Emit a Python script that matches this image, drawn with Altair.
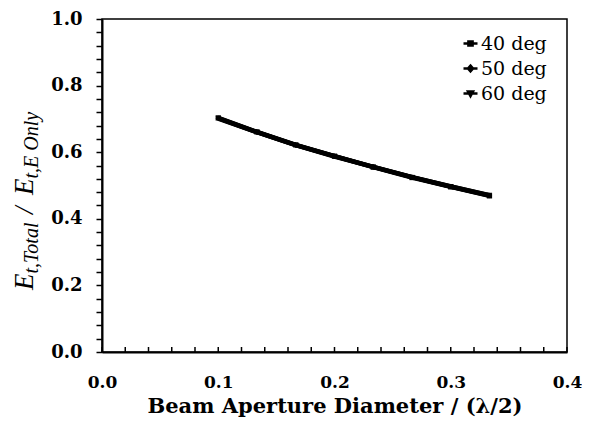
import altair as alt
import pandas as pd

# ---- data ----
aperture = [0.1, 0.1333, 0.1667, 0.2, 0.2333, 0.2667, 0.3, 0.3333]
deg40 = [0.703, 0.661, 0.622, 0.588, 0.555, 0.524, 0.496, 0.469]
deg50 = [0.702, 0.660, 0.621, 0.588, 0.556, 0.525, 0.497, 0.470]
deg60 = [0.701, 0.660, 0.621, 0.587, 0.556, 0.525, 0.497, 0.471]
series_names = ["40 deg", "50 deg", "60 deg"]
x_ticks = [0.0, 0.1, 0.2, 0.3, 0.4]
x_minor = [round(i * 0.02, 2) for i in range(21)]
y_ticks = [round(i * 0.04, 2) for i in range(26)]

rows = []
for name, vals in zip(series_names, [deg40, deg50, deg60]):
    for xv, yv in zip(aperture, vals):
        rows.append({"x": xv, "y": yv, "series": name})
df = pd.DataFrame(rows)

W, H = 465, 333
FONT = "DejaVu Serif"
TFONT = "Liberation Serif"

xscale = alt.Scale(domain=[0, 0.4], nice=False, zero=False)
yscale = alt.Scale(domain=[0, 1], nice=False)

x_axis = alt.Axis(values=x_ticks, format=".1f", ticks=False, tickSize=0,
                  labelPadding=22, labelFlush=False, labelOverlap=False,
                  labelFont=FONT, labelFontSize=17, labelFontWeight="bold",
                  labelColor="black", domainColor="black", domainWidth=2,
                  grid=False, title="Beam Aperture Diameter / (λ/2)",
                  titleFont=FONT, titleFontSize=21, titleFontWeight="bold",
                  titleColor="black", titlePadding=5)
y_axis = alt.Axis(values=y_ticks,
                  labelExpr="(round(datum.value*100) % 20 == 0) ? format(datum.value, '.1f') : ''",
                  tickSize=6, tickWidth=1.5, tickColor="black",
                  labelPadding=14, labelFlush=False, labelOverlap=False,
                  labelBound=False,
                  labelFont=FONT, labelFontSize=18, labelFontWeight="bold",
                  labelColor="black", domainColor="black", domainWidth=2,
                  grid=False, title=None)

X = alt.X("x:Q", scale=xscale, axis=x_axis)
Y = alt.Y("y:Q", scale=yscale, axis=y_axis)

base = alt.Chart(df)

line = base.mark_line(color="black", strokeWidth=4.5).encode(
    x=X, y=Y, detail="series:N",
)

points = base.mark_point(filled=True, color="black", size=28, opacity=1).encode(
    x=X, y=Y,
    shape=alt.Shape("series:N",
                    scale=alt.Scale(domain=series_names,
                                    range=["square", "diamond", "triangle-down"]),
                    legend=None),
)

legend_paths = [
    "M-1,0H1M-0.3,-0.3H0.3V0.3H-0.3Z",
    "M-1,0H1M0,-0.42L0.36,0L0,0.42L-0.36,0Z",
    "M-1,0H1M-0.36,-0.3H0.36L0,0.36Z",
]
legend_layer = base.transform_filter("false").mark_point(
    filled=False, color="black", strokeWidth=2.5, opacity=1
).encode(
    x=X, y=Y,
    shape=alt.Shape("series:N",
                    scale=alt.Scale(domain=series_names, range=legend_paths),
                    legend=alt.Legend(title=None, orient="none", legendX=359, legendY=15,
                                      padding=0, symbolSize=196, symbolStrokeWidth=2.5,
                                      symbolStrokeColor="black", labelOffset=1,
                                      labelFont=FONT, labelFontSize=19,
                                      labelColor="black", rowPadding=5)),
)

tick_df = pd.DataFrame({"x": x_minor})
xticks = alt.Chart(tick_df).mark_rule(color="black", strokeWidth=1.5).encode(
    x=X,
    y=alt.value(H - 5),
    y2=alt.value(H),
)

# composite y-axis title with subscripts
def piece(text, xpos, ypos, size):
    return alt.Chart(pd.DataFrame({"t": [text]})).mark_text(
        angle=270, align="left", baseline="alphabetic", font=TFONT,
        fontStyle="italic", fontSize=size, color="black"
    ).encode(text="t:N", x=alt.value(xpos), y=alt.value(ypos))

M, S = 27, 20
title_parts = [
    piece("E", -69, 271, M),
    piece("t,Total", -64, 254.5, S),
    piece("/", -69, 195, M),
    piece("E", -69, 176, M),
    piece("t,E Only", -64, 159.5, S),
]

chart = alt.layer(line, points, legend_layer, xticks, *title_parts).resolve_scale(
    shape="independent"
).properties(
    width=W, height=H,
    autosize=alt.AutoSizeParams(type="none"),
    padding={"left": 94, "top": 11, "right": 15, "bottom": 71},
).configure(background="white").configure_view(stroke="black", strokeWidth=1.5)

chart.save("out.html", embed_options={"renderer": "svg", "actions": False})
